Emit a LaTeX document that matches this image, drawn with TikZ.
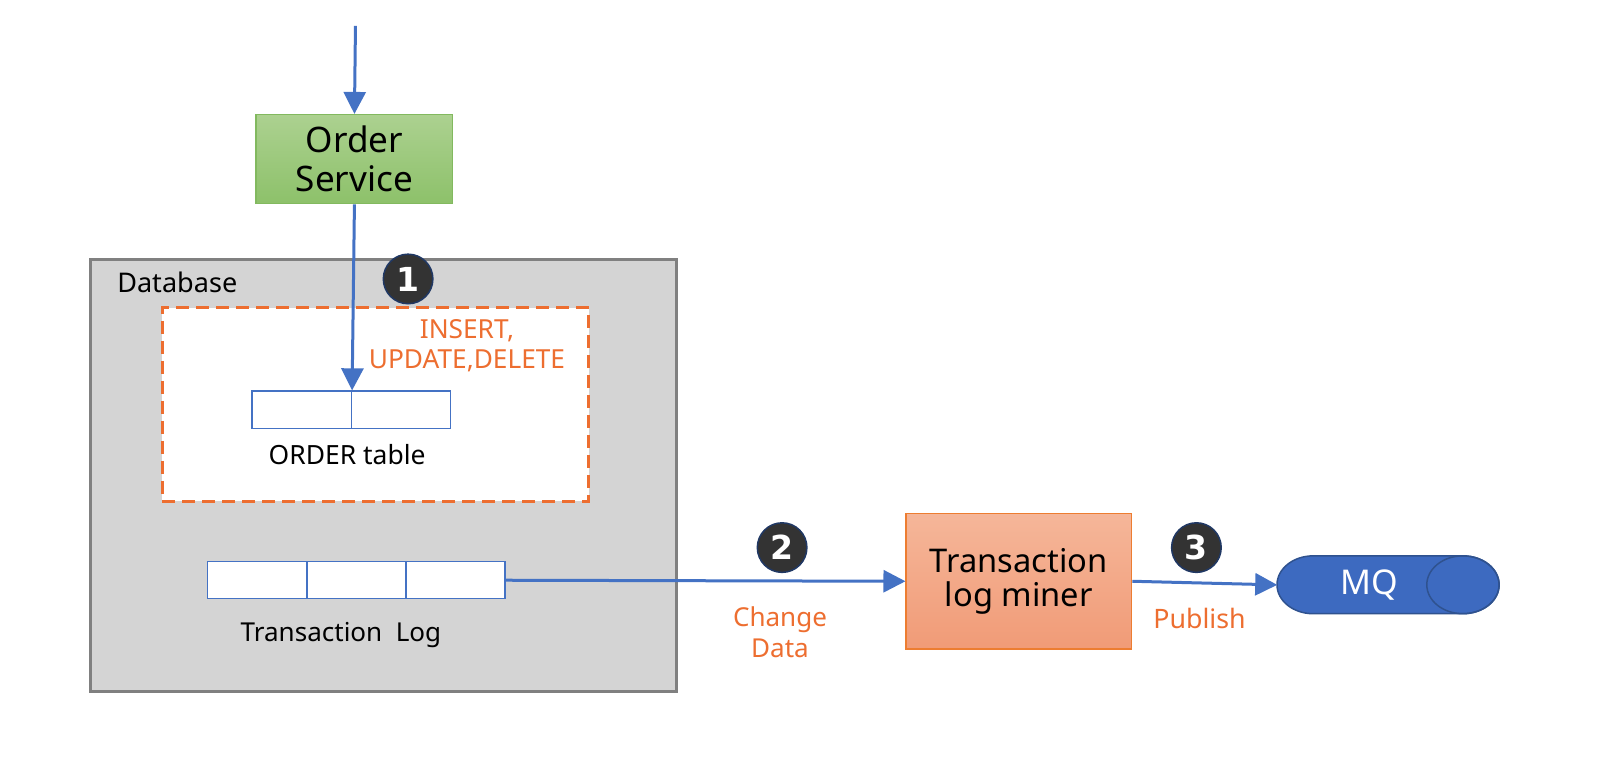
\documentclass[tikz,border=0pt]{standalone}
\usepackage{fontspec}
\setmainfont{Noto Sans}
\newfontfamily\stepfont{DejaVu Sans}
\usetikzlibrary{arrows.meta,positioning}

\definecolor{flowblue}{RGB}{68,114,196}
\definecolor{mqblue}{RGB}{61,106,192}
\definecolor{mqedge}{RGB}{47,82,143}
\definecolor{dbfill}{RGB}{212,212,212}
\definecolor{dbedge}{RGB}{128,128,128}
\definecolor{notecol}{RGB}{237,110,48}
\definecolor{stepfill}{RGB}{51,51,51}
\definecolor{stepedge}{RGB}{32,56,100}

\begin{document}
\begin{tikzpicture}
[x=1pt,y=-1pt,scale=1.0332,every node/.style={transform shape},
flow/.style={draw=flowblue,line width=3pt,-{Triangle[length=22pt,width=22pt]}},
cell/.style={draw=flowblue,fill=white,line width=1.5pt,minimum width=96pt,minimum height=36pt,inner sep=0pt},
stepno/.style={circle,fill=stepfill,draw=stepedge,line width=1.5pt,minimum size=48pt,inner sep=0pt,text=white,font=\stepfont\fontsize{32}{32}\selectfont\bfseries},
note/.style={text=notecol,align=center,font=\fontsize{25.4}{29}\selectfont},
plain/.style={font=\fontsize{25.6}{30}\selectfont}]
\useasboundingbox (0,0) rectangle (1568,746.2);

\node[draw=dbedge,fill=dbfill,line width=3pt,minimum width=567pt,minimum height=418pt,inner sep=0pt] (db) at (371.5,460) {};
\node[plain,anchor=west,font=\fontsize{26.2}{30}\selectfont] (dblabel) at (110,273) {Database};
\node[draw=notecol,fill=white,dashed,dash pattern=on 13pt off 7pt,line width=3pt,minimum width=413pt,minimum height=187pt,inner sep=0pt] (scope) at (363.5,391.5) {};

\node[cell] (ot1) at (292,396.5) {};
\node[cell] (ot2) at (388,396.5) {};
\node[plain] (otlabel) at (336,440) {ORDER table};
\node[note] (ops) at (452,335) {INSERT,\\UPDATE,DELETE};

\node[cell] (tl1) at (249,561.5) {};
\node[cell] (tl2) at (345,561.5) {};
\node[cell] (tl3) at (441,561.5) {};
\node[plain,font=\fontsize{25.2}{30}\selectfont] (tllabel) at (330,615) {Transaction\ \ Log};

\node[draw={rgb,255:red,130;green,185;blue,95},line width=1.5pt,top color={rgb,255:red,172;green,209;blue,144},bottom color={rgb,255:red,141;green,193;blue,106},minimum width=190pt,minimum height=86pt,align=center,font=\fontsize{34}{38}\selectfont] (order) at (343,154) {Order\\Service};
\coordinate (in) at (344,25);

\node[draw={rgb,255:red,237;green,125;blue,49},line width=1.5pt,top color={rgb,255:red,245;green,182;blue,153},bottom color={rgb,255:red,241;green,155;blue,119},minimum width=218pt,minimum height=131pt,align=center,font=\fontsize{31.6}{33}\selectfont] (miner) at (986,562.5) {Transaction\\log miner};

\draw[draw=mqedge,fill=mqblue,line width=1.5pt] (1271,538) -- (1416,538) arc(90:-90:35pt and 28pt) -- (1271,594) arc(270:90:35pt and 28pt) -- cycle;
\draw[draw=mqedge,line width=1.5pt] (1416,566) ellipse [x radius=35pt,y radius=28pt];
\node[text=white,font=\fontsize{33}{33}\selectfont] (mqtext) at (1325,566) {MQ};
\coordinate (mq) at (1236,566);

\node[stepno] (s1) at (395,270) {1};
\node[stepno] (s2) at (757,530) {2};
\node[stepno] (s3) at (1158,530) {3};
\node[note,font=\fontsize{25.2}{30}\selectfont] (change) at (755,612) {Change\\Data};
\node[note,font=\fontsize{25.9}{30}\selectfont] (publish) at (1161,599) {Publish};

\draw[flow] (in) -- (order.north);
\draw[flow] (order.south) -- (ot1.north east);
\draw[flow] (tl3.east) -- (miner.west);
\draw[flow] (miner.east) -- (mq);
\end{tikzpicture}
\end{document}
